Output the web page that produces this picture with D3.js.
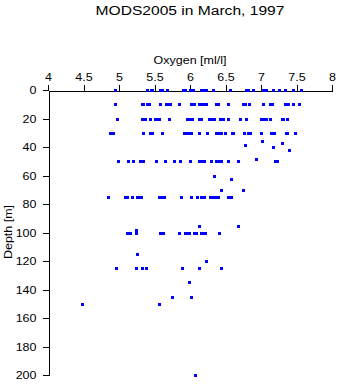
<!DOCTYPE html>
<html>
<head>
<meta charset="utf-8">
<script src="https://cdn.jsdelivr.net/npm/d3@7"></script>
<style>
  html, body { margin: 0; padding: 0; background: #fff; }
  svg { display: block; }
  text { font-family: "Liberation Sans", Arial, Helvetica, sans-serif; fill: #000; }
</style>
</head>
<body>
<svg id="chart" width="338" height="384"></svg>
<script>
// ---- data (oxygen in ml/l at standard depths) ----
const title = "MODS2005 in March, 1997";
const xLabel = "Oxygen [ml/l]";
const yLabel = "Depth [m]";
const xTicks = [4, 4.5, 5, 5.5, 6, 6.5, 7, 7.5, 8];
const xTickLabels = ["4", "4.5", "5", "5.5", "6", "6.5", "7", "7.5", "8"];
const yTicks = [0, 20, 40, 60, 80, 100, 120, 140, 160, 180, 200];

const oxygenAt0 = [4.94, 5.39, 5.45, 5.47, 5.58, 5.60, 5.68, 5.90, 5.93, 6.00, 6.04, 6.15, 6.20, 6.23, 6.32, 6.57, 6.79, 6.82, 6.89, 7.03, 7.07, 7.17, 7.26, 7.34, 7.45, 7.57];
const oxygenAt10 = [4.94, 5.32, 5.34, 5.40, 5.42, 5.58, 5.66, 5.69, 5.72, 5.85, 6.01, 6.05, 6.12, 6.15, 6.19, 6.23, 6.36, 6.40, 6.54, 6.74, 6.77, 6.83, 7.03, 7.13, 7.16, 7.34, 7.36, 7.38, 7.45, 7.54];
const oxygenAt20 = [4.97, 5.33, 5.36, 5.44, 5.50, 5.53, 5.56, 5.71, 5.96, 6.00, 6.03, 6.13, 6.16, 6.27, 6.31, 6.34, 6.42, 6.46, 6.53, 6.70, 6.79, 7.00, 7.03, 7.07, 7.13, 7.29, 7.31, 7.36];
const oxygenAt30 = [4.87, 4.91, 5.34, 5.43, 5.46, 5.61, 5.91, 5.95, 5.99, 6.02, 6.13, 6.24, 6.36, 6.40, 6.44, 6.49, 6.59, 6.61, 6.76, 6.82, 6.85, 7.00, 7.14, 7.18, 7.35, 7.37, 7.48];
const oxygenAt50 = [4.99, 5.13, 5.20, 5.30, 5.32, 5.34, 5.52, 5.65, 5.78, 5.86, 6.00, 6.13, 6.16, 6.20, 6.29, 6.37, 6.40, 6.44, 6.54, 6.67, 7.20, 7.22];
const oxygenAt75 = [4.85, 5.08, 5.11, 5.18, 5.26, 5.29, 5.31, 5.57, 5.60, 5.63, 5.88, 6.01, 6.10, 6.16, 6.20, 6.28, 6.31, 6.35, 6.40, 6.53, 6.58];
const oxygenAt100 = [5.11, 5.14, 5.16, 5.24, 5.58, 5.60, 5.62, 5.85, 5.93, 5.95, 5.98, 6.06, 6.09, 6.16, 6.19, 6.21, 6.41];
const oxygenAt125 = [4.96, 5.24, 5.33, 5.38, 5.89, 6.13, 6.43];

// points at non-standard depths
const otherOxygen = [7.02, 6.78, 7.30, 7.17, 7.40, 6.93, 6.34, 6.58, 6.44, 6.75, 6.13, 6.68, 5.24, 5.26, 6.22, 5.98, 5.74, 6.02, 5.57, 4.48, 6.07];
const otherDepth  = [35.6, 38.4, 37.4, 40.2, 42.3, 48.4, 60.4, 62.2, 70.2, 70.4, 95.2, 95.2, 98.2, 115.3, 120.2, 134.9, 145.3, 145.3, 150.4, 150.2, 200.2];

const standardDepths = [0, 10, 20, 30, 50, 75, 100, 125];
const standardOxygen = [oxygenAt0, oxygenAt10, oxygenAt20, oxygenAt30, oxygenAt50, oxygenAt75, oxygenAt100, oxygenAt125];

// ---- build point table ----
const points = [];
standardDepths.forEach((d, i) => standardOxygen[i].forEach(o => points.push({ o, d })));
otherOxygen.forEach((o, i) => points.push({ o, d: otherDepth[i] }));

// ---- drawing ----
const svg = d3.select("#chart");
const x = d3.scaleLinear().domain([4, 8]).range([48, 332]);
const y = d3.scaleLinear().domain([0, 200]).range([90, 375]);

const fontFamily = '"Liberation Sans", Arial, Helvetica, sans-serif';

// title
svg.append("text")
  .attr("transform", "translate(190,14.5) scale(1,0.8)")
  .attr("text-anchor", "middle")
  .style("font-size", "15.6px")
  .text(title);

// x axis (top)
const xAxis = d3.axisTop(x).tickValues(xTicks)
  .tickFormat((d, i) => xTickLabels[i]).tickSize(6).tickSizeOuter(0).tickPadding(4);
const gx = svg.append("g").attr("transform", "translate(0,90.5)").call(xAxis);
gx.select(".domain").attr("stroke", "#000").attr("shape-rendering", "crispEdges");
gx.selectAll(".tick line").attr("stroke", "#000").attr("shape-rendering", "crispEdges");
gx.selectAll(".tick text")
  .attr("y", 0).attr("dy", null)
  .attr("transform", "translate(0,-10) scale(1,0.8)")
  .style("font-family", fontFamily).style("font-size", "12.5px");

// y axis (left)
const yAxis = d3.axisLeft(y).tickValues(yTicks).tickSize(6).tickSizeOuter(0).tickPadding(6);
const gy = svg.append("g").attr("transform", "translate(48.5,0)").call(yAxis);
gy.select(".domain").attr("stroke", "#000").attr("shape-rendering", "crispEdges");
gy.selectAll(".tick line").attr("stroke", "#000").attr("shape-rendering", "crispEdges");
gy.selectAll(".tick text")
  .attr("x", 0).attr("dy", null)
  .attr("transform", "translate(-12,3.5) scale(1,0.8)")
  .style("font-family", fontFamily).style("font-size", "12.5px");

// axis labels
svg.append("text")
  .attr("transform", "translate(190,64) scale(1,0.8)")
  .attr("text-anchor", "middle")
  .style("font-size", "12.5px")
  .text(xLabel);

svg.append("text")
  .attr("transform", "translate(12,232) rotate(-90) scale(1,0.8)")
  .attr("text-anchor", "middle")
  .style("font-size", "12.5px")
  .text(yLabel);

// points
svg.append("g").selectAll("rect").data(points).join("rect")
  .attr("x", p => Math.round(x(p.o)) - 1)
  .attr("y", p => Math.round(y(p.d)) - 1)
  .attr("width", 3).attr("height", 3)
  .attr("fill", "#0000ff");
</script>
</body>
</html>
